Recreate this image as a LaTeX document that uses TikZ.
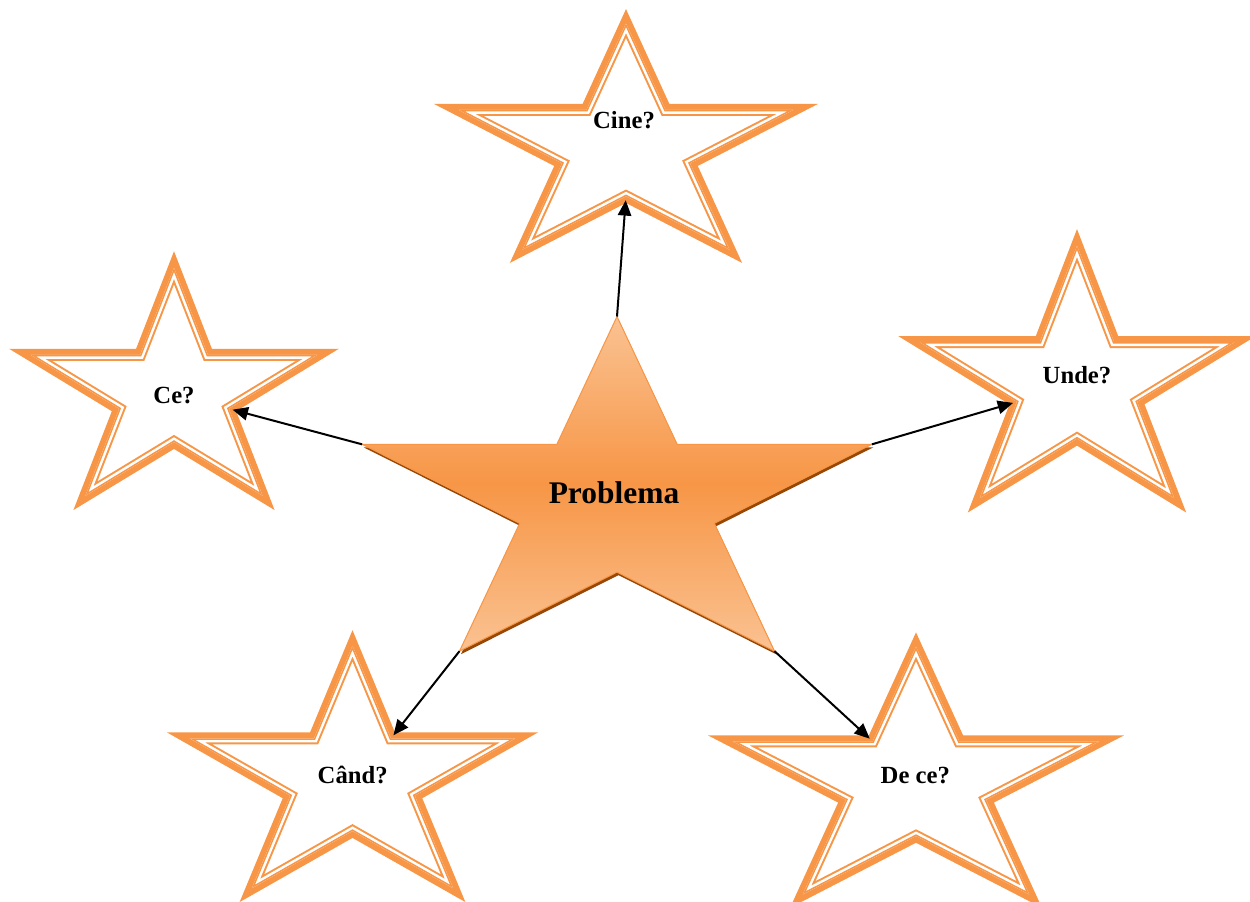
\documentclass[tikz,border=0pt]{standalone}
\usepackage{fontspec}
\setmainfont{Liberation Serif}
\usetikzlibrary{arrows.meta}

\definecolor{stelaportocalie}{RGB}{247,150,70}
\definecolor{stelaclara}{RGB}{250,194,146}
\definecolor{stelaumbra}{RGB}{152,72,6}

\tikzset{every picture/.style={line width=0.75pt}}
\tikzset{
	banda/.style={draw=stelaportocalie, line join=miter, miter limit=20},
	sageata/.style={draw=black, line width=1.5pt, -{Triangle[length=11.5pt,width=10pt]}, shorten >=3pt},
	eticheta/.style={font=\fontsize{18.5}{22}\selectfont\bfseries, inner sep=0pt, anchor=base},
}

% corners of a five pointed star: name, centre x, centre y, x radius, y radius
\newcommand{\colturistea}[5]{%
	\foreach \k in {0,...,9}{%
		\pgfmathsetmacro{\fct}{1-0.618*mod(\k,2)}
		\coordinate (#1-p\k) at ({#2+\fct*#4*cos(-90+36*\k)},{#3+\fct*#5*sin(-90+36*\k)});
	}%
}
\newcommand{\conturstea}[1]{(#1-p0) \foreach \k in {1,...,9}{ -- (#1-p\k)} -- cycle}
% thick-thin outlined star
\newcommand{\intrebare}[5]{%
	\colturistea{#1}{#2}{#3}{#4}{#5}
	\draw [banda, line width=9pt] \conturstea{#1};
	\begin{scope}
		\clip \conturstea{#1};
		\draw [banda, draw=white, line width=6pt] \conturstea{#1};
		\draw [banda, line width=2.25pt] \conturstea{#1};
	\end{scope}
}

\begin{document}
\begin{tikzpicture}[x=0.75pt,y=0.75pt,yscale=-1,xscale=1]
	\useasboundingbox (0,0) rectangle (1250,901);
	
	%Stars
	\intrebare{cine}{626}{148.5}{176}{125}
	\intrebare{ce}{174}{393.8}{150.7}{126}
	\intrebare{unde}{1077}{385.3}{165.4}{139.5}
	\intrebare{cand}{352.5}{779.8}{171.2}{134}
	\intrebare{dece}{916}{783.7}{192.7}{136.9}
	
	%Central star with shadow
	\colturistea{pbumbra}{618.5}{504.5}{268}{185}
	\colturistea{pb}{617}{501.5}{268}{185}
	\fill [stelaumbra] \conturstea{pbumbra};
	\shadedraw [top color=stelaclara, bottom color=stelaclara, middle color=stelaportocalie, draw=stelaportocalie, line width=0.75pt] \conturstea{pb};
	
	%Arrows
	\draw [sageata] (pb-p0) -- (cine-p5);
	\draw [sageata] (pb-p8) -- (ce-p3);
	\draw [sageata] (pb-p2) -- (unde-p7);
	\draw [sageata] (pb-p6) -- (cand-p1);
	\draw [sageata] (pb-p4) -- (dece-p9);
	
	% Text Node
	\node [eticheta, font=\fontsize{23.6}{28}\selectfont\bfseries] (problema) at (614,503) {Problema};
	% Text Node
	\node [eticheta] (cine) at (624,128) {Cine?};
	% Text Node
	\node [eticheta] (ce) at (174,403) {Ce?};
	% Text Node
	\node [eticheta] (unde) at (1077,383) {Unde?};
	% Text Node
	\node [eticheta] (cand) at (352.7,783) {Când?};
	% Text Node
	\node [eticheta] (dece) at (915.3,783) {De ce?};
\end{tikzpicture}
\end{document}
